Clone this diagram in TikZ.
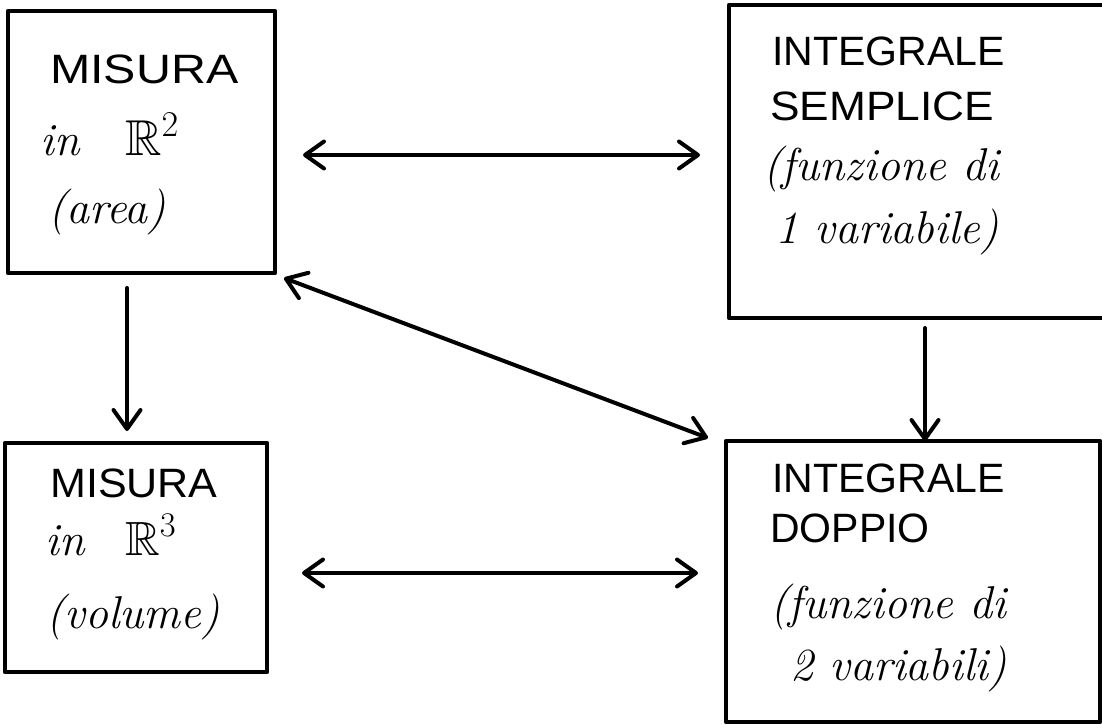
\documentclass[tikz,border=0pt]{standalone}
\usepackage{fontspec}
\usepackage{amssymb}
\usepackage{graphicx}
\newfontfamily\capsfont{Liberation Sans}
\usetikzlibrary{arrows.meta}
\tikzset{
  hb/.tip={Straight Barb[length=19pt,width=27pt,round]},
  box/.style={draw, line width=4.2pt, inner sep=0pt, outer sep=0pt, line join=round},
  biarrow/.style={line width=4pt, line cap=round, hb-hb},
  onearrow/.style={line width=4pt, line cap=round, -hb},
  capstext/.style={anchor=base west, inner sep=0pt, font=\capsfont\fontsize{41}{48}\selectfont},
  curtext/.style={anchor=base west, inner sep=0pt, font=\itshape\fontsize{46}{52}\selectfont},
  realtext/.style={anchor=base west, inner sep=0pt, font=\fontsize{24}{28}\selectfont}
}
\begin{document}
\begin{tikzpicture}[x=1pt,y=-1pt]
\fill[white] (0,0) rectangle (1102,724);
\useasboundingbox (0,0) rectangle (1102,724);

% boxes
\node[box, minimum width=267pt, minimum height=262pt] (A) at (141.5,142) {};
\node[box, minimum width=377pt, minimum height=313pt] (B) at (917.5,161.5) {};
\node[box, minimum width=262pt, minimum height=229pt] (C) at (136,557.5) {};
\node[box, minimum width=374pt, minimum height=281pt] (D) at (913,581.5) {};

% box A text
\node[capstext] (a1) at (50,83) {\scalebox{1.18}[1]{MISURA}};
\node[curtext] (a2) at (40,155) {in};
\node[realtext] (a3) at (125,155) {\scalebox{2.1}{$\mathbb{R}^{2}$}};
\node[curtext] (a4) at (48,223) {(area)};

% box B text
\node[capstext] (b1) at (772,65) {INTEGRALE};
\node[capstext] (b2) at (770,120) {\scalebox{1.08}[1]{SEMPLICE}};
\node[curtext] (b3) at (763,180) {(funzione di};
\node[curtext] (b4) at (775,243) {1 variabile)};

% box C text
\node[capstext] (c1) at (50,497) {\scalebox{1.05}[1]{MISURA}};
\node[curtext] (c2) at (45,555) {in};
\node[realtext] (c3) at (125,555) {\scalebox{2.0}{$\mathbb{R}^{3}$}};
\node[curtext] (c4) at (46,628) {(volume)};

% box D text
\node[capstext] (d1) at (772,492) {INTEGRALE};
\node[capstext] (d2) at (770,542) {DOPPIO};
\node[curtext] (d3) at (770,618) {(funzione di};
\node[curtext] (d4) at (790,680) {2 variabili)};

% connector ends
\coordinate (ab1) at (303,155);
\coordinate (ab2) at (700,155);
\coordinate (ac1) at (127,288);
\coordinate (ac2) at (127,431);
\coordinate (bd1) at (925,328);
\coordinate (bd2) at (925,441);
\coordinate (ad1) at (284,278);
\coordinate (ad2) at (708,438);
\coordinate (cd1) at (302,573);
\coordinate (cd2) at (698,573);

\draw[biarrow] (ab1) -- (ab2);
\draw[onearrow] (ac1) -- (ac2);
\draw[onearrow] (bd1) -- (bd2);
\draw[biarrow] (ad1) -- (ad2);
\draw[biarrow] (cd1) -- (cd2);
\end{tikzpicture}
\end{document}
